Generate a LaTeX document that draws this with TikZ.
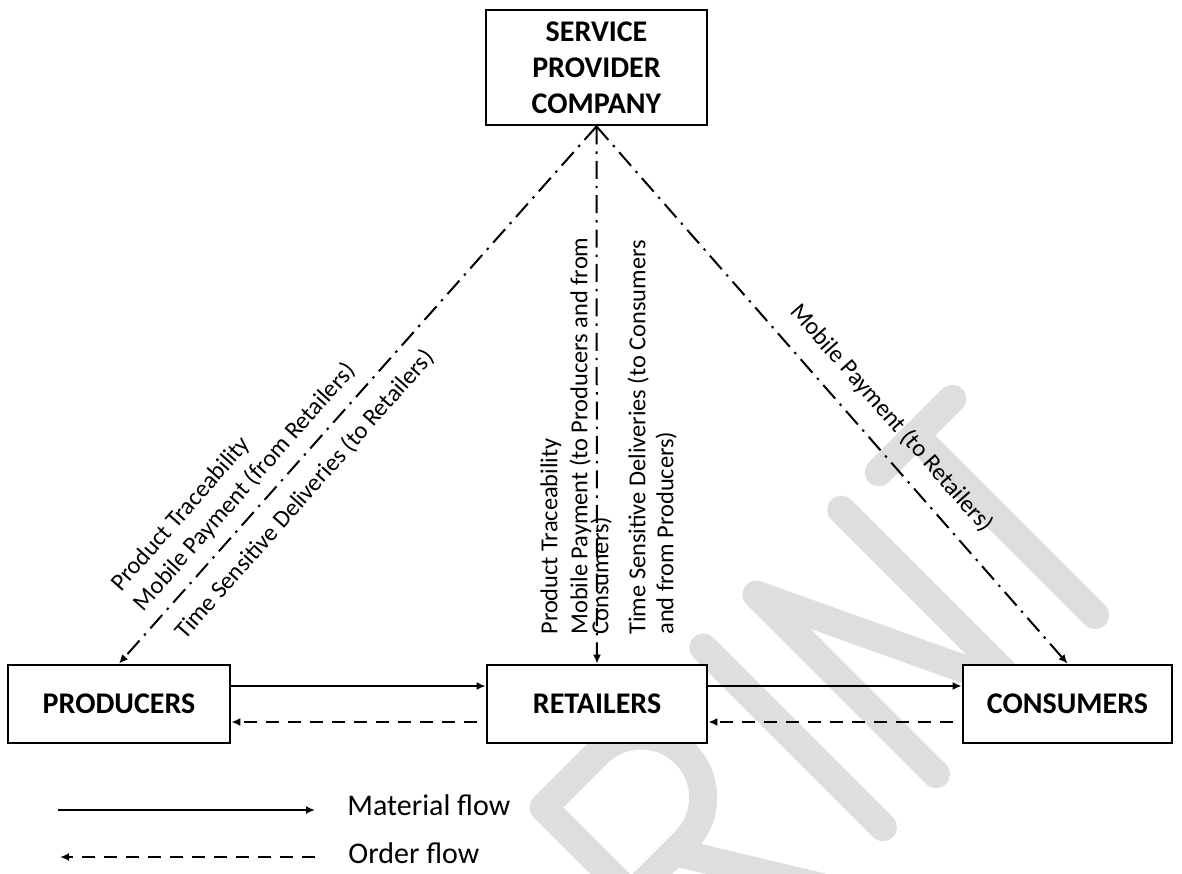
\documentclass[tikz,border=0pt]{standalone}
\usepackage{fontspec}
\setmainfont{Carlito}
\usetikzlibrary{arrows.meta}

\begin{document}
\begin{tikzpicture}[x=0.5pt,y=0.5pt,
  box/.style={draw,line width=1.4pt,fill=white,inner sep=0pt,align=center,
    font=\bfseries\fontsize{15}{18}\selectfont},
  flow/.style={line width=1pt,-{Latex[length=4.5pt,width=4pt]}},
  order/.style={flow,dash pattern=on 6.5pt off 4.5pt},
  info/.style={line width=1pt,dash pattern=on 9pt off 3.5pt on 1.2pt off 3.5pt,
    -{Latex[length=4.5pt,width=4pt]}},
  lbl/.style={inner sep=0pt,align=left,font=\fontsize{12.2}{15}\selectfont},
  legend/.style={inner sep=0pt,font=\fontsize{15}{18}\selectfont},
  wmark/.style={line width=14pt,black!13,line cap=round,line join=round}]
  \useasboundingbox (0,0) rectangle (1182,873);

  % watermark
  \begin{scope}
    \clip (0,0) rectangle (1182,873);
    \begin{scope}[shift={(1105,248)},rotate=45,wmark]
      \draw (-52,268) -- (52,268) (0,268) -- (0,14);
      \draw (-225,14) -- (-225,268) -- (-105,14) -- (-105,268);
      \draw (-300,14) -- (-300,268);
      \draw (-526,14) -- (-526,268) -- (-450,268) arc[start angle=90,end angle=-90,radius=62] -- (-526,144)
        (-465,144) -- (-385,14);
    \end{scope}
  \end{scope}

  % actors
  \node[box,minimum width=110.5pt,minimum height=57.5pt] (svc) at (596.5,805.5) {SERVICE\\PROVIDER\\COMPANY};
  \node[box,minimum width=111pt,minimum height=39pt] (prod) at (119,169) {PRODUCERS};
  \node[box,minimum width=110pt,minimum height=39pt] (ret) at (597,169) {RETAILERS};
  \node[box,minimum width=104.5pt,minimum height=39pt] (cons) at (1067.5,169) {CONSUMERS};

  % material and order flows
  \draw[flow] ([yshift=9pt]prod.east) -- ([yshift=9pt]ret.west);
  \draw[flow] ([yshift=9pt]ret.east) -- ([yshift=9pt]cons.west);
  \draw[order,shorten <=4.5pt] ([yshift=-9pt]ret.west) -- ([yshift=-9pt]prod.east);
  \draw[order,shorten <=4.5pt] ([yshift=-9pt]cons.west) -- ([yshift=-9pt]ret.east);

  % services
  \draw[info] (svc.south) -- (prod.north);
  \draw[info] (svc.south) -- (ret.north);
  \draw[info] (svc.south) -- (cons.north);

  \node[lbl,rotate=48.5,anchor=north west] (lblprod) at (108,292)
    {Product Traceability\\Mobile Payment (from Retailers)\\[10pt]\hspace*{3pt}Time Sensitive Deliveries (to Retailers)};
  \node[lbl,rotate=90,anchor=north west] (lblret) at (540,238)
    {Product Traceability\\Mobile Payment (to Producers and from\\[-4.5pt]Consumers)\\[3.5pt]Time Sensitive Deliveries (to Consumers\\[-1pt]and from Producers)};
  \node[lbl,rotate=-48.7,anchor=base west] (lblcons) at (789,561) {Mobile Payment (to Retailers)};

  % legend
  \coordinate (mf0) at (58,63);
  \coordinate (mf1) at (315,63);
  \coordinate (of0) at (315,16);
  \coordinate (of1) at (60,16);
  \draw[flow] (mf0) -- (mf1);
  \draw[order] (of0) -- (of1);
  \node[legend,anchor=base west] (mflab) at (347,58) {Material flow};
  \node[legend,anchor=base west] (oflab) at (348,10) {Order flow};
\end{tikzpicture}
\end{document}
